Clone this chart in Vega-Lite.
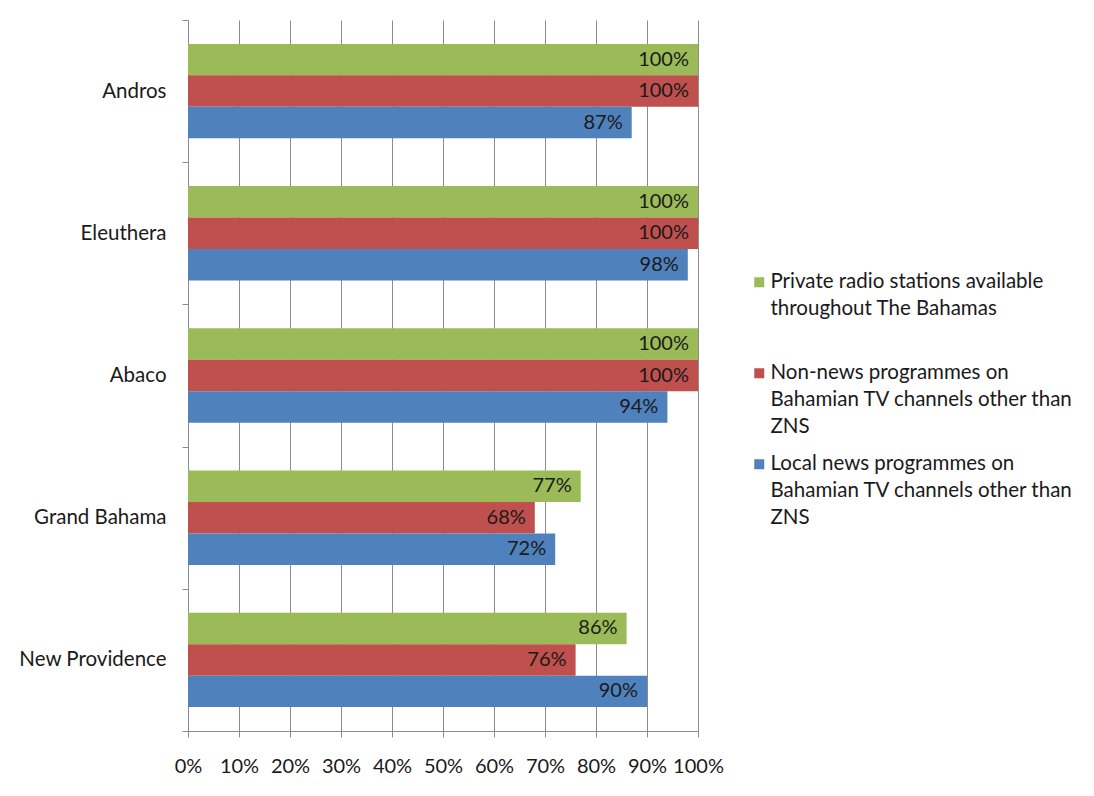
{
  "$schema": "https://vega.github.io/schema/vega-lite/v6.json",
  "width": 510,
  "height": 711,
  "autosize": "none",
  "padding": {"left": 188, "top": 20, "right": 396, "bottom": 65},
  "background": "white",
  "config": {
    "view": {"stroke": null},
    "font": "Lato",
    "style": {"guide-label": {"lineHeight": 27}}
  },
  "data": {
    "values": [
      {"island": "Andros", "series": "Private radio stations available throughout The Bahamas", "share": 1.00},
      {"island": "Andros", "series": "Non-news programmes on Bahamian TV channels other than ZNS", "share": 1.00},
      {"island": "Andros", "series": "Local news programmes on Bahamian TV channels other than ZNS", "share": 0.87},
      {"island": "Eleuthera", "series": "Private radio stations available throughout The Bahamas", "share": 1.00},
      {"island": "Eleuthera", "series": "Non-news programmes on Bahamian TV channels other than ZNS", "share": 1.00},
      {"island": "Eleuthera", "series": "Local news programmes on Bahamian TV channels other than ZNS", "share": 0.98},
      {"island": "Abaco", "series": "Private radio stations available throughout The Bahamas", "share": 1.00},
      {"island": "Abaco", "series": "Non-news programmes on Bahamian TV channels other than ZNS", "share": 1.00},
      {"island": "Abaco", "series": "Local news programmes on Bahamian TV channels other than ZNS", "share": 0.94},
      {"island": "Grand Bahama", "series": "Private radio stations available throughout The Bahamas", "share": 0.77},
      {"island": "Grand Bahama", "series": "Non-news programmes on Bahamian TV channels other than ZNS", "share": 0.68},
      {"island": "Grand Bahama", "series": "Local news programmes on Bahamian TV channels other than ZNS", "share": 0.72},
      {"island": "New Providence", "series": "Private radio stations available throughout The Bahamas", "share": 0.86},
      {"island": "New Providence", "series": "Non-news programmes on Bahamian TV channels other than ZNS", "share": 0.76},
      {"island": "New Providence", "series": "Local news programmes on Bahamian TV channels other than ZNS", "share": 0.90}
    ]
  },
  "encoding": {
    "y": {
      "field": "island",
      "type": "nominal",
      "sort": ["Andros", "Eleuthera", "Abaco", "Grand Bahama", "New Providence"],
      "scale": {"paddingInner": 0, "paddingOuter": 0},
      "axis": {
        "title": null,
        "tickBand": "extent",
        "tickSize": 6,
        "tickColor": "#8c8c8c",
        "domainColor": "#8c8c8c",
        "labelPadding": 16,
        "labelFontSize": 20.5,
        "labelColor": "#1a1a1a",
        "labelFont": "Lato"
      }
    },
    "yOffset": {
      "field": "series",
      "type": "nominal",
      "sort": [
        "Private radio stations available throughout The Bahamas",
        "Non-news programmes on Bahamian TV channels other than ZNS",
        "Local news programmes on Bahamian TV channels other than ZNS"
      ],
      "scale": {"paddingInner": 0, "paddingOuter": 0.76}
    },
    "x": {
      "field": "share",
      "type": "quantitative",
      "scale": {"domain": [0, 1], "nice": false},
      "axis": {
        "title": null,
        "values": [0, 0.1, 0.2, 0.3, 0.4, 0.5, 0.6, 0.7, 0.8, 0.9, 1],
        "format": ".0%",
        "grid": true,
        "gridColor": "#8c8c8c",
        "gridOpacity": 1,
        "tickColor": "#8c8c8c",
        "domainColor": "#8c8c8c",
        "tickSize": 6,
        "labelPadding": 19,
        "labelFontSize": 20,
        "labelColor": "#1a1a1a",
        "labelFlush": false
      }
    }
  },
  "layer": [
    {
      "mark": {"type": "bar"},
      "encoding": {
        "color": {
          "field": "series",
          "type": "nominal",
          "sort": [
            "Private radio stations available throughout The Bahamas",
            "Non-news programmes on Bahamian TV channels other than ZNS",
            "Local news programmes on Bahamian TV channels other than ZNS"
          ],
          "scale": {"range": ["#9BBB59", "#C0504D", "#4F81BD"]},
          "legend": {
            "title": null,
            "orient": "none",
            "legendX": 561,
            "legendY": 252,
            "symbolType": "square",
            "symbolSize": 100,
            "symbolStrokeWidth": 0,
            "labelFontSize": 20.5,
            "labelColor": "#1a1a1a",
            "labelLimit": 0,
            "labelOffset": 1,
            "gridAlign": "all",
            "rowPadding": 16,
            "labelExpr": "datum.value == 'Private radio stations available throughout The Bahamas' ? ['Private radio stations available', 'throughout The Bahamas'] : datum.value == 'Non-news programmes on Bahamian TV channels other than ZNS' ? ['Non-news programmes on', 'Bahamian TV channels other than', 'ZNS'] : ['Local news programmes on', 'Bahamian TV channels other than', 'ZNS']"
          }
        }
      }
    },
    {
      "mark": {"type": "text", "align": "right", "baseline": "middle", "dx": -9, "fontSize": 20, "color": "#1a1a1a"},
      "encoding": {
        "text": {"field": "share", "type": "quantitative", "format": ".0%"}
      }
    }
  ]
}
